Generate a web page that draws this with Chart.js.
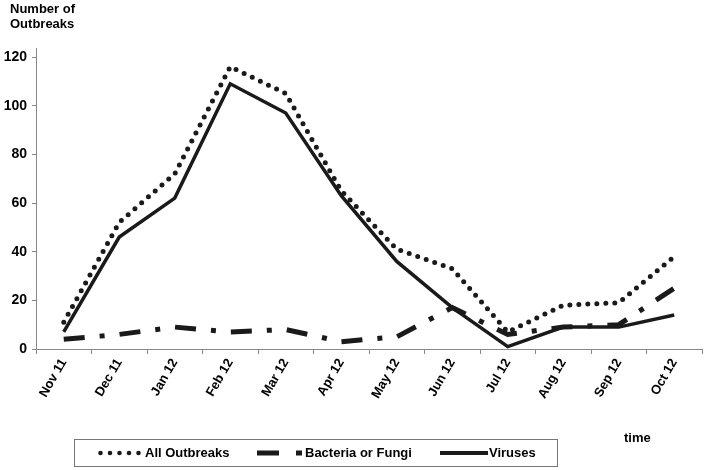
<!DOCTYPE html>
<html>
<head>
<meta charset="utf-8">
<script src="https://cdn.jsdelivr.net/npm/chart.js@4/dist/chart.umd.min.js"></script>
<style>
  html, body { margin: 0; padding: 0; background: #fff; }
  #wrap { position: relative; width: 706px; height: 470px; font-family: "Liberation Sans", Arial, sans-serif; font-weight: bold; color: #000; }
  #wrap canvas { position: absolute; left: 0; top: 0; }
  .txt { position: absolute; font-size: 13px; font-weight: bold; white-space: nowrap; line-height: 15px; }
  #legsvg { position: absolute; left: 0; top: 0; }
</style>
</head>
<body>
<div id="wrap">
  <canvas id="c" width="706" height="470"></canvas>
  <div class="txt" style="left:10px; top:1px;">Number of<br>Outbreaks</div>
  <div class="txt" style="left:624px; top:430px;">time</div>
  <svg id="legsvg" width="706" height="470" xmlns="http://www.w3.org/2000/svg">
    <rect x="74.5" y="439.5" width="483" height="27" fill="#fff" stroke="#777" stroke-width="1"/>
    <circle cx="100.5" cy="453" r="2.3" fill="#1a1a1a"/>
    <circle cx="110" cy="453" r="2.3" fill="#1a1a1a"/>
    <circle cx="119.5" cy="453" r="2.3" fill="#1a1a1a"/>
    <circle cx="129" cy="453" r="2.3" fill="#1a1a1a"/>
    <circle cx="138.5" cy="453" r="2.3" fill="#1a1a1a"/>
    <rect x="257" y="450.5" width="22" height="5" fill="#1a1a1a"/>
    <rect x="296" y="450.5" width="6" height="5" fill="#1a1a1a"/>
    <rect x="440" y="451" width="48" height="4" fill="#1a1a1a"/>
  </svg>
  <div class="txt" style="left:145px; top:445px;">All Outbreaks</div>
  <div class="txt" style="left:305px; top:445px;">Bacteria or Fungi</div>
  <div class="txt" style="left:489px; top:445px;">Viruses</div>
</div>
<script>
const categories = ["Nov 11", "Dec 11", "Jan 12", "Feb 12", "Mar 12", "Apr 12", "May 12", "Jun 12", "Jul 12", "Aug 12", "Sep 12", "Oct 12"];
const allOutbreaks = [11, 52, 72, 116, 105, 65, 41, 33, 7, 18, 19, 38];
const bacteriaOrFungi = [4, 6, 9, 7, 8, 3, 5, 17, 6, 9, 10, 25];
const viruses = [7, 46, 62, 109, 97, 63, 36, 17, 1, 9, 9, 14];
const yTicks = [0, 20, 40, 60, 80, 100, 120];

const lineCol = '#1a1a1a';
const axisCol = '#888888';
const font13 = { family: "'Liberation Sans', Arial, sans-serif", size: 13, weight: 'bold' };
const font14 = { family: "'Liberation Sans', Arial, sans-serif", size: 14, weight: 'bold' };

new Chart(document.getElementById('c'), {
  type: 'line',
  data: {
    labels: categories,
    datasets: [
      {
        label: 'All Outbreaks',
        data: allOutbreaks,
        borderColor: lineCol,
        borderWidth: 5,
        borderDash: [0, 9],
        borderCapStyle: 'round',
        pointRadius: 0,
        tension: 0,
        fill: false
      },
      {
        label: 'Bacteria or Fungi',
        data: bacteriaOrFungi,
        borderColor: lineCol,
        borderWidth: 5,
        borderDash: [21, 15, 5, 15],
        borderCapStyle: 'butt',
        pointRadius: 0,
        tension: 0,
        fill: false
      },
      {
        label: 'Viruses',
        data: viruses,
        borderColor: lineCol,
        borderWidth: 3.5,
        borderJoinStyle: 'miter',
        pointRadius: 0,
        tension: 0,
        fill: false
      }
    ]
  },
  options: {
    responsive: false,
    animation: false,
    layout: { padding: { top: 48, right: 4, left: 0, bottom: 0 } },
    plugins: {
      legend: { display: false },
      tooltip: { enabled: false },
      title: { display: false }
    },
    scales: {
      x: {
        type: 'category',
        offset: true,
        grid: { offset: true, drawOnChartArea: false, drawTicks: true, tickLength: 5, color: axisCol, lineWidth: 1 },
        border: { color: axisCol, width: 1 },
        ticks: { autoSkip: false, minRotation: 60, maxRotation: 60, color: '#000', font: font13, padding: 2 },
        afterFit: (s) => { s.height = 121; }
      },
      y: {
        min: 0,
        max: 123.7,
        grid: { drawOnChartArea: false, drawTicks: true, tickLength: 4, color: axisCol, lineWidth: 1 },
        border: { color: axisCol, width: 1 },
        ticks: { stepSize: 20, color: '#000', font: font14, padding: 5 },
        afterBuildTicks: (s) => { s.ticks = yTicks.map(v => ({ value: v })); },
        afterFit: (s) => { s.width = 36; }
      }
    }
  }
});
</script>
</body>
</html>
